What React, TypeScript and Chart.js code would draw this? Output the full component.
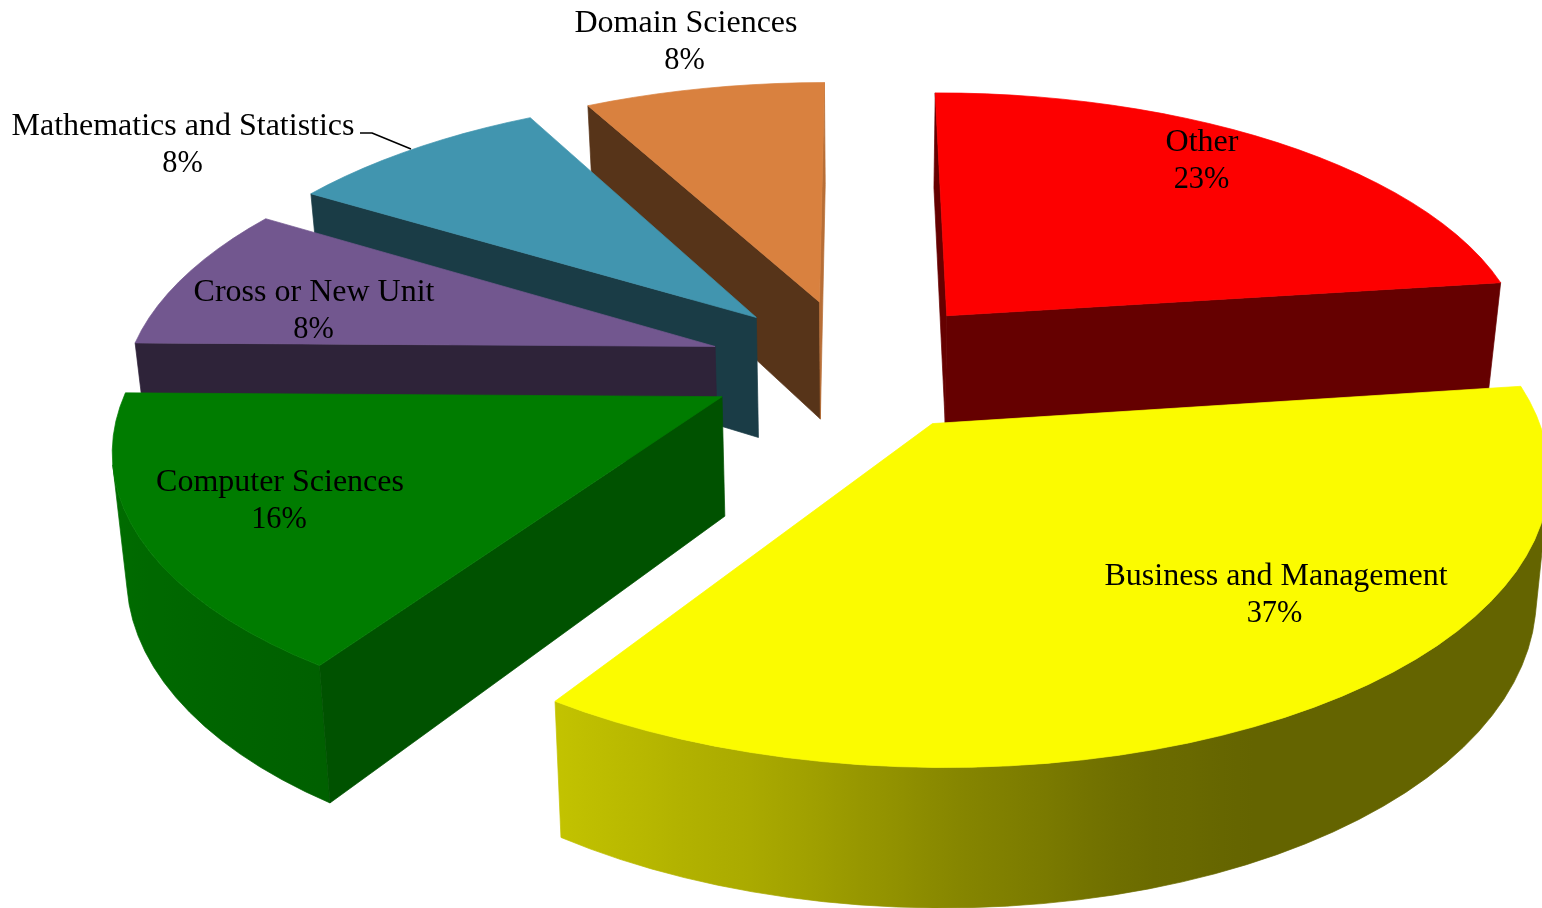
import React, { useEffect, useRef } from "react";
import { Chart, registerables } from "chart.js";

Chart.register(...registerables);

const categories = ["Other", "Business and Management", "Computer Sciences", "Cross or New Unit", "Mathematics and Statistics", "Domain Sciences"];
const percentLabels = ["23%", "37%", "16%", "8%", "8%", "8%"];
const shares = [22.94, 36.435, 15.883, 8.478, 8.464, 7.8];
const topColors = ["#fd0000", "#fbfb00", "#007c00", "#72578f", "#4195af", "#d9813f"];
const startWallShade = [0.4, 0.4, 0.66, 0.4, 0.4, 0.4];
const endWallShade = [0.4, 0.4, 0.4, 0.4, 0.4, 0.85];
const sliceDepth = [0.0635, 0.0648, 0.0665, 0.066, 0.0699, 0.0687];
const labelX = [1202, 1276, 280, 314, 183, 686];
const percentX = [1201.5, 1274.5, 279, 313.5, 182.5, 684.5];
const labelY = [143, 577, 483, 293, 127, 24];

// Pie-plane to screen perspective
const HORIZON = 1400, K = 0.333, HX = 868, A = 5.695e-4, Q = 0.87e-4;
const CU = -0.025, CD = -0.033, EXPLODE_PX = 100, STEP = (3 * Math.PI) / 180;

type P = { x: number; y: number };
const project = (u: number, d: number): P => {
  const Y = 1 / (A + Q * d);
  return { x: HX + K * Y * u, y: Y - HORIZON };
};
const extrude = (p: P, depth: number): P => {
  const Y = p.y + HORIZON;
  return { x: p.x - 0.019 * (p.x - HX), y: p.y + depth * Y };
};
const shade = (hex: string, f: number) => {
  const n = parseInt(hex.slice(1), 16);
  const c = [(n >> 16) & 255, (n >> 8) & 255, n & 255].map((v) => Math.round(v * f));
  return `rgb(${c[0]},${c[1]},${c[2]})`;
};
const rimStops = [[0, 0.4], [155, 0.4], [164, 0.43], [178.5, 0.53], [194.4, 0.67], [214, 0.78], [271, 0.92], [360, 1]];
const rimShade = (deg: number) => {
  for (let i = 1; i < rimStops.length; i++) {
    if (deg <= rimStops[i][0]) {
      const [a, fa] = rimStops[i - 1], [b, fb] = rimStops[i];
      return fa + ((fb - fa) * (deg - a)) / (b - a);
    }
  }
  return 1;
};
const area = (pts: P[]) => {
  let s = 0;
  pts.forEach((p, i) => {
    const q = pts[(i + 1) % pts.length];
    s += p.x * q.y - q.x * p.y;
  });
  return s / 2;
};
const fillPoly = (ctx: CanvasRenderingContext2D, pts: P[], color: any) => {
  ctx.beginPath();
  pts.forEach((p, i) => (i ? ctx.lineTo(p.x, p.y) : ctx.moveTo(p.x, p.y)));
  ctx.closePath();
  ctx.fillStyle = color;
  ctx.fill();
  ctx.strokeStyle = color;
  ctx.lineWidth = 0.7;
  ctx.lineJoin = "round";
  ctx.stroke();
};

const pie3d = {
  id: "pie3d",
  beforeDatasetDraw(chart: any, args: any) {
    const ctx: CanvasRenderingContext2D = chart.ctx;
    const arcs: any[] = args.meta.data;
    const items = arcs.map((arc, i) => {
      const { startAngle, endAngle, outerRadius } = arc.getProps(["startAngle", "endAngle", "outerRadius"], true);
      const s = startAngle + Math.PI / 2, e = endAngle + Math.PI / 2, m = (s + e) / 2;
      const ex = arc.options.offset / outerRadius;
      const u0 = CU + ex * Math.sin(m), d0 = CD + ex * Math.cos(m);
      return { i, s, e, u0, d0 };
    });
    items.sort((a, b) => b.d0 - a.d0);
    for (const { i, s, e, u0, d0 } of items) {
      const color = topColors[i];
      const depth = sliceDepth[i];
      const apex = project(u0, d0);
      const rim: P[] = [];
      const degs: number[] = [];
      const n = Math.max(1, Math.ceil((e - s) / STEP));
      for (let k = 0; k <= n; k++) {
        const t = s + ((e - s) * k) / n;
        degs.push((t * 180) / Math.PI);
        rim.push(project(u0 + Math.sin(t), d0 + Math.cos(t)));
      }
      const wall = (a: P, b: P, col: string) => {
        const q = [a, b, extrude(b, depth), extrude(a, depth)];
        if (area(q) < 0) fillPoly(ctx, q, col);
      };
      // the visible part of the curved rim, shaded across the screen
      let first = -1, last = -1;
      for (let k = 0; k < n; k++) {
        const q = [rim[k], rim[k + 1], extrude(rim[k + 1], depth), extrude(rim[k], depth)];
        if (area(q) < 0) {
          if (first < 0) first = k;
          last = k + 1;
        }
      }
      if (first >= 0) {
        const top = rim.slice(first, last + 1);
        const bottom = top.map((p) => extrude(p, depth)).reverse();
        const xs = [...top, ...bottom].map((p) => p.x);
        const x0 = Math.min(...xs), x1 = Math.max(...xs);
        const g = ctx.createLinearGradient(x0, 0, x1, 0);
        top.forEach((p, k) => {
          const o = Math.min(1, Math.max(0, (p.x - x0) / (x1 - x0)));
          g.addColorStop(o, shade(color, rimShade(degs[first + k])));
        });
        fillPoly(ctx, [...top, ...bottom], g);
      }
      wall(apex, rim[0], shade(color, startWallShade[i]));
      wall(rim[n], apex, shade(color, endWallShade[i]));
      fillPoly(ctx, [apex, ...rim], color);
    }
    return false;
  },
  afterDraw(chart: any) {
    const ctx: CanvasRenderingContext2D = chart.ctx;
    ctx.save();
    ctx.font = '32px "Liberation Serif"';
    ctx.fillStyle = "#000";
    ctx.textAlign = "center";
    ctx.textBaseline = "middle";
    categories.forEach((c, i) => {
      ctx.fillText(c, labelX[i], labelY[i]);
      const pct = percentLabels[i];
      ctx.fillText(pct, percentX[i], labelY[i] + 37, ctx.measureText(pct).width * 0.95);
    });
    ctx.beginPath();
    ctx.moveTo(360, 133);
    ctx.lineTo(372, 133);
    ctx.lineTo(411, 149);
    ctx.strokeStyle = "#000";
    ctx.lineWidth = 1.5;
    ctx.stroke();
    ctx.restore();
  },
};

export default function App() {
  const ref = useRef<HTMLCanvasElement>(null);
  useEffect(() => {
    const chart = new Chart(ref.current!, {
      type: "pie",
      data: {
        labels: categories,
        datasets: [{ data: shares, backgroundColor: topColors, offset: EXPLODE_PX, borderWidth: 0 }],
      },
      options: {
        animation: false,
        responsive: false,
        rotation: -0.15,
        events: [],
        layout: { padding: 0 },
        plugins: { legend: { display: false }, tooltip: { enabled: false } },
      },
      plugins: [pie3d],
    } as any);
    return () => chart.destroy();
  }, []);
  return (
    <div style={{ position: "fixed", left: 0, top: 0, width: 1542, height: 908, background: "#fff" }}>
      <canvas ref={ref} width={1542} height={908} style={{ display: "block" }} />
    </div>
  );
}
